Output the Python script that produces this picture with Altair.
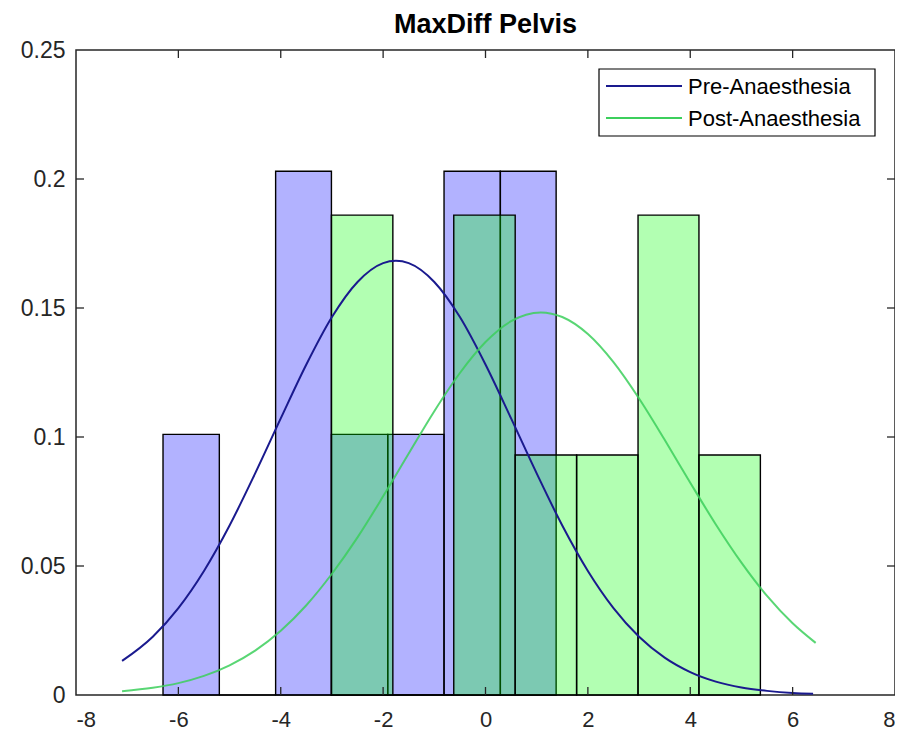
import altair as alt
import pandas as pd

# ---- data ----
series_names = ["Pre-Anaesthesia", "Post-Anaesthesia"]

pre_edges = [-6.30, -5.20, -4.10, -3.01, -1.91, -0.81, 0.29, 1.38]
pre_heights = [0.101, 0.0, 0.203, 0.101, 0.101, 0.203, 0.203]

post_edges = [-3.01, -1.81, -0.62, 0.58, 1.78, 2.98, 4.17, 5.37]
post_heights = [0.186, 0.0, 0.186, 0.093, 0.093, 0.186, 0.093]

pre_fit_x = [-7.1, -6.5, -6.0, -5.5, -5.0, -4.5, -4.0, -3.5, -3.0, -2.5, -2.0, -1.75,
             -1.5, -1.0, -0.5, 0.0, 0.5, 1.0, 1.5, 2.0, 2.5, 3.0, 3.5, 4.0, 4.5,
             5.0, 5.5, 6.0, 6.4]
pre_fit_y = [0.0132, 0.0226, 0.0337, 0.0481, 0.0657, 0.0859, 0.1072, 0.1281, 0.1465,
             0.1601, 0.1674, 0.1683, 0.1674, 0.1601, 0.1465, 0.1281, 0.1072, 0.0859,
             0.0657, 0.0481, 0.0337, 0.0226, 0.0145, 0.0089, 0.0052, 0.0029, 0.0016,
             0.0008, 0.0005]

post_fit_x = [-7.1, -6.5, -6.0, -5.5, -5.0, -4.5, -4.0, -3.5, -3.0, -2.5, -2.0, -1.5,
              -1.0, -0.5, 0.0, 0.5, 1.08, 1.5, 2.0, 2.5, 3.0, 3.5, 4.0, 4.5, 5.0,
              5.5, 6.0, 6.45]
post_fit_y = [0.0015, 0.0028, 0.0046, 0.0074, 0.0115, 0.0172, 0.0249, 0.0348, 0.0470,
              0.0611, 0.0770, 0.0936, 0.1100, 0.1248, 0.1368, 0.1449, 0.1483, 0.1465,
              0.1399, 0.1290, 0.1149, 0.0989, 0.0823, 0.0661, 0.0513, 0.0384, 0.0278,
              0.0202]

x_ticks = [-8, -6, -4, -2, 0, 2, 4, 6, 8]
y_ticks = [0, 0.05, 0.1, 0.15, 0.2, 0.25]

# ---- styling ----
FONT = "Liberation Sans"
AX = "#262626"
W, H = 819, 645
PRE_FILL, POST_FILL = "#0000ff", "#00ff00"
PRE_LINE, POST_LINE = "#1a1a8e", "#3ccf5c"

xs = alt.Scale(domain=[-8, 8], nice=False)
ys = alt.Scale(domain=[0, 0.25], nice=False)
x_axis = alt.Axis(values=x_ticks, labelExpr="'' + datum.value", domain=False, ticks=False,
                  grid=False, title=None, labelPadding=14, labelFontSize=22,
                  labelFont=FONT, labelColor=AX)
y_axis = alt.Axis(values=y_ticks, format=".2~f", domain=False, ticks=False, grid=False,
                  title=None, labelPadding=11, labelFontSize=23,
                  labelFont=FONT, labelColor=AX)


def X(f):
    return alt.X(f, scale=xs, axis=x_axis)


def Y(f):
    return alt.Y(f, scale=ys, axis=y_axis)


def bars_df(edges, heights):
    return pd.DataFrame({
        "x0": edges[:-1],
        "x1": edges[1:],
        "h": heights,
        "base": [0.0] * len(heights),
    })


pre_bars = alt.Chart(bars_df(pre_edges, pre_heights)).mark_rect(
    fill=PRE_FILL, fillOpacity=0.3, stroke="black", strokeWidth=1.4
).encode(x=X("x0:Q"), x2="x1:Q", y=Y("h:Q"), y2="base:Q")

post_bars = alt.Chart(bars_df(post_edges, post_heights)).mark_rect(
    fill=POST_FILL, fillOpacity=0.3, stroke="black", strokeWidth=1.4
).encode(x=X("x0:Q"), x2="x1:Q", y=Y("h:Q"), y2="base:Q")

pre_line = alt.Chart(pd.DataFrame({"x": pre_fit_x, "y": pre_fit_y})).mark_line(
    color=PRE_LINE, strokeWidth=2, interpolate="monotone"
).encode(x=X("x:Q"), y=Y("y:Q"))

post_line = alt.Chart(pd.DataFrame({"x": post_fit_x, "y": post_fit_y})).mark_line(
    color=POST_LINE, strokeWidth=2, opacity=0.85, interpolate="monotone"
).encode(x=X("x:Q"), y=Y("y:Q"))

# inward tick marks on all four sides (MATLAB box style)
xt = pd.DataFrame({"v": x_ticks[1:-1]})
yt = pd.DataFrame({"v": y_ticks[1:-1]})
tick_style = dict(color=AX, strokeWidth=1.3)
ticks_bottom = alt.Chart(xt).mark_rule(**tick_style).encode(
    x=X("v:Q"), y=alt.value(H), y2=alt.value(H - 8))
ticks_top = alt.Chart(xt).mark_rule(**tick_style).encode(
    x=X("v:Q"), y=alt.value(0), y2=alt.value(8))
ticks_left = alt.Chart(yt).mark_rule(**tick_style).encode(
    y=Y("v:Q"), x=alt.value(0), x2=alt.value(8))
ticks_right = alt.Chart(yt).mark_rule(**tick_style).encode(
    y=Y("v:Q"), x=alt.value(W), x2=alt.value(W - 8))

# title as text above the plot, centred on it
title_df = pd.DataFrame({"label": ["MaxDiff Pelvis"]})
title = alt.Chart(title_df).mark_text(
    align="center", baseline="alphabetic", font=FONT, fontSize=27,
    fontWeight="bold", color="black"
).encode(text="label:N", x=alt.value(W / 2), y=alt.value(-17))

# legend box
leg_df = pd.DataFrame({"label": ["legend"]})
leg_box = alt.Chart(leg_df).mark_rect(
    fill="white", stroke="black", strokeWidth=1.2
).encode(x=alt.value(523), x2=alt.value(799), y=alt.value(19), y2=alt.value(86))

leg_layers = []
for name, col, yy in [(series_names[0], PRE_LINE, 36), (series_names[1], POST_LINE, 68)]:
    d = pd.DataFrame({"label": [name]})
    leg_layers.append(alt.Chart(d).mark_rule(color=col, strokeWidth=2).encode(
        x=alt.value(530), x2=alt.value(606), y=alt.value(yy)))
    leg_layers.append(alt.Chart(d).mark_text(
        align="left", baseline="middle", font=FONT, fontSize=22, color="black"
    ).encode(text="label:N", x=alt.value(612), y=alt.value(yy + 1)))

chart = alt.layer(
    pre_bars, post_bars, pre_line, post_line,
    ticks_bottom, ticks_top, ticks_left, ticks_right,
    title, leg_box, *leg_layers,
).properties(
    width=W, height=H,
    autosize=alt.AutoSizeParams(type="none"),
    padding={"left": 68, "top": 42, "right": 0, "bottom": 37},
).configure_view(
    stroke=AX, strokeWidth=1.5
)

chart.save("out.html", embed_options={"renderer": "svg", "actions": False})
